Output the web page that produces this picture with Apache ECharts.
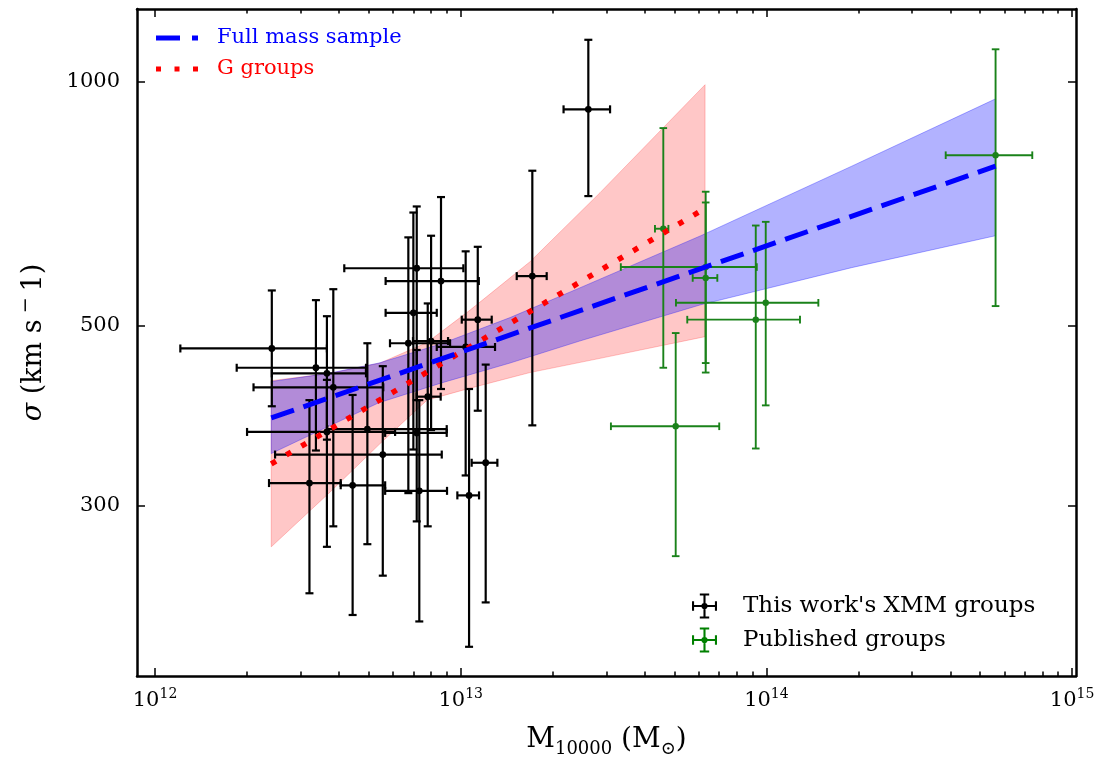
<!DOCTYPE html>
<html><head><meta charset="utf-8">
<script src="https://cdn.jsdelivr.net/npm/echarts@6/dist/echarts.min.js"></script>
<style>html,body{margin:0;padding:0;background:#fff}#c{width:1102px;height:757px}</style>
</head><body><div id="c"></div>
<script>
// ---- tick values ----
const xMajorTicks = [1e12, 1e13, 1e14, 1e15];
const xMinorTicks = [2e12,3e12,4e12,5e12,6e12,7e12,8e12,9e12,
                     2e13,3e13,4e13,5e13,6e13,7e13,8e13,9e13,
                     2e14,3e14,4e14,5e14,6e14,7e14,8e14,9e14];
const yTicks = [300, 500, 1000];

// ---- This work's XMM groups: [M, M_lo, M_hi, sigma, sigma_lo, sigma_hi] ----
const xmmGroups = [
  [2.41e12, 1.21e12, 3.65e12, 469, 398, 553],
  [3.36e12, 1.85e12, 4.90e12, 444, 351, 538],
  [3.65e12, 2.41e12, 4.90e12, 437, 362, 514],
  [3.83e12, 2.10e12, 5.58e12, 420, 283, 555],
  [3.20e12, 2.36e12, 4.05e12, 320, 234, 405],
  [3.65e12, 2.00e12, 6.10e12, 370, 267, 429],
  [4.95e12, 3.66e12, 9.00e12, 373, 269, 476],
  [5.56e12, 2.47e12, 8.67e12, 347, 246, 446],
  [4.43e12, 4.05e12, 5.66e12, 318, 220, 411],
  [7.32e12, 5.66e12, 9.02e12, 313, 216, 405],
  [7.18e12, 4.16e12, 1.02e13, 589, 405, 702],
  [8.62e12, 5.68e12, 1.146e13, 568, 418, 721],
  [7.00e12, 5.68e12, 8.35e12, 519, 352, 690],
  [6.74e12, 5.87e12, 9.23e12, 476, 311, 643],
  [8.00e12, 6.98e12, 9.09e12, 479, 372, 646],
  [7.80e12, 7.18e12, 8.60e12, 409, 283, 533],
  [1.137e13, 1.008e13, 1.263e13, 509, 393, 626],
  [1.038e13, 8.35e12, 1.295e13, 471, 327, 618],
  [1.065e13, 9.75e12, 1.148e13, 309, 201, 418],
  [1.207e13, 1.086e13, 1.318e13, 339, 228, 448],
  [1.715e13, 1.525e13, 1.911e13, 576, 377, 777],
  [2.615e13, 2.17e13, 3.08e13, 925, 723, 1127],
  [7.18e12, 5.66e12, 9.00e12, 369, 287, 467]
];

// ---- Published groups ----
const publishedGroups = [
  [4.60e13, 4.32e13, 4.78e13, 659, 444, 877],
  [6.33e13, 3.34e13, 9.30e13, 591, 438, 732],
  [6.33e13, 5.74e13, 6.91e13, 573, 450, 710],
  [9.95e13, 5.06e13, 1.479e14, 534, 399, 672],
  [9.23e13, 5.51e13, 1.288e14, 509, 353, 665],
  [5.05e13, 3.10e13, 7.01e13, 376, 260, 490],
  [5.62e14, 3.86e14, 7.41e14, 812, 529, 1097]
];

// ---- fits ----
const fullFitX = [2.4e12, 5.62e14];
const fullFitY = [385, 787];
const gFitX = [2.4e12, 6.3e13];
const gFitY = [338, 698];

// ---- confidence bands ----
const fullBandX = [2.4e12, 3.7e12, 5.4e12, 8.6e12, 1.45e13, 2.45e13, 6.1e13, 1.9e14, 5.62e14];
const fullBandUpper = [427, 437, 450, 475, 512, 557, 646, 787, 953];
const fullBandLower = [348, 376, 402, 425, 450, 479, 531, 590, 646];
const gBandX = [2.4e12, 3.74e12, 5.45e12, 7.76e12, 1.073e13, 1.685e13, 2.856e13, 6.3e13];
const gBandUpper = [428, 437, 450, 477, 523, 600, 730, 992];
const gBandLower = [267, 312, 358, 405, 419, 438, 456, 485];

const FONT = 'DejaVu Serif';
const chart = echarts.init(document.getElementById('c'), null, {renderer: 'canvas'});

function errRender(color, lw, cap, r) {
  return function (params, api) {
    const x = api.value(0), xl = api.value(1), xh = api.value(2);
    const y = api.value(3), yl = api.value(4), yh = api.value(5);
    const c = api.coord([x, y]);
    const L = api.coord([xl, y]), R = api.coord([xh, y]);
    const B = api.coord([x, yl]), T = api.coord([x, yh]);
    const st = {stroke: color, lineWidth: lw};
    const ln = (x1, y1, x2, y2) => ({type: 'line', shape: {x1, y1, x2, y2}, style: st});
    return {type: 'group', children: [
      ln(L[0], L[1], R[0], R[1]),
      ln(B[0], B[1], T[0], T[1]),
      ln(L[0], L[1] - cap, L[0], L[1] + cap),
      ln(R[0], R[1] - cap, R[0], R[1] + cap),
      ln(T[0] - cap, T[1], T[0] + cap, T[1]),
      ln(B[0] - cap, B[1], B[0] + cap, B[1]),
      {type: 'circle', shape: {cx: c[0], cy: c[1], r: r}, style: {fill: color}}
    ]};
  };
}
function bandRender(xs, up, lo, fill) {
  return function (params, api) {
    if (params.dataIndex !== 0) return null;
    const pts = [];
    for (let i = 0; i < xs.length; i++) pts.push(api.coord([xs[i], up[i]]));
    for (let i = xs.length - 1; i >= 0; i--) pts.push(api.coord([xs[i], lo[i]]));
    return {type: 'polygon', shape: {points: pts}, style: {fill: fill, stroke: fill, lineWidth: 1}};
  };
}
const errIcon = 'path://M11 0H13V24H11Z M0 11H24V13H0Z M7.5 0H16.5V2H7.5Z M7.5 22H16.5V24H7.5Z M0 7.5H2V16.5H0Z M22 7.5H24V16.5H22Z M9 12a3 3 0 1 1 6 0a3 3 0 1 1 -6 0Z';
const dashIcon = 'path://M0 0H24V5H0Z M36 0H42V5H36Z';
const dotIcon = 'path://M0 0H5V5H0Z M18.5 0H23.5V5H18.5Z M37 0H42V5H37Z';

const xMin = 8.73e11, xMax = 1.03e15, yMin = 185, yMax = 1230;
const spine = {show: true, onZero: false, lineStyle: {color: '#000', width: 2.5}};
function xAx(pos, ticks, len, labels, line) {
  const a = {
    type: 'log', gridIndex: 0, position: pos, min: xMin, max: xMax,
    axisLine: line ? spine : {show: false},
    axisTick: {show: true, inside: true, length: len, customValues: ticks, lineStyle: {color: '#000', width: 1.5}},
    axisLabel: {show: false},
    splitLine: {show: false}, minorTick: {show: false}, minorSplitLine: {show: false}
  };
  if (labels) {
    a.axisLabel = {
      show: true, customValues: ticks, margin: 11,
      formatter: v => '{b|10}{s|' + Math.round(Math.log10(v)) + '}',
      rich: {
        b: {fontFamily: FONT, fontSize: 21, color: '#000', lineHeight: 28},
        s: {fontFamily: FONT, fontSize: 14, color: '#000', lineHeight: 14, verticalAlign: 'top'}
      }
    };
    a.name = '{m|M}{sub|10000}{m| (M}{sub|⊙}{m|)}';
    a.nameLocation = 'middle';
    a.nameGap = 46;
    a.nameTextStyle = {
      rich: {
        m: {fontFamily: FONT, fontSize: 28, color: '#000', lineHeight: 36},
        sub: {fontFamily: FONT, fontSize: 18, color: '#000', lineHeight: 18, verticalAlign: 'bottom'}
      }
    };
  }
  return a;
}
function yAx(pos, labels) {
  const a = {
    type: 'log', gridIndex: 0, position: pos, min: yMin, max: yMax,
    axisLine: spine,
    axisTick: {show: true, inside: true, length: 8, customValues: yTicks, lineStyle: {color: '#000', width: 1.5}},
    axisLabel: {show: false},
    splitLine: {show: false}, minorTick: {show: false}
  };
  if (labels) {
    a.axisLabel = {show: true, customValues: yTicks, margin: 17,
      formatter: v => String(Math.round(v)),
      fontFamily: FONT, fontSize: 21, color: '#000'};
    a.name = '{i|σ}{t| (km s}{p|−}{t|1)}';
    a.nameLocation = 'middle';
    a.nameGap = 86;
    a.nameRotate = 90;
    a.nameTextStyle = {
      rich: {
        i: {fontFamily: FONT, fontSize: 27, fontStyle: 'italic', color: '#000', lineHeight: 34},
        t: {fontFamily: FONT, fontSize: 27, color: '#000', lineHeight: 34},
        p: {fontFamily: FONT, fontSize: 19, color: '#000', lineHeight: 19, verticalAlign: 'top', padding: [0, 6, 0, 6]}
      }
    };
  }
  return a;
}

const option = {
  animation: false,
  backgroundColor: '#fff',
  grid: {left: 137, right: 26, top: 9, bottom: 81, containLabel: false, outerBoundsMode: 'none'},
  xAxis: [
    xAx('bottom', xMajorTicks, 8, true, true),
    xAx('bottom', xMinorTicks, 4.5, false, false),
    xAx('top', xMajorTicks, 8, false, true),
    xAx('top', xMinorTicks, 4.5, false, false)
  ],
  yAxis: [yAx('left', true), yAx('right', false)],
  legend: [
    {
      orient: 'vertical', left: 156, top: 25, padding: 0, itemGap: 5,
      itemWidth: 42, itemHeight: 5, selectedMode: false,
      textStyle: {fontFamily: FONT, fontSize: 21, lineHeight: 26, padding: [0, 0, 0, 14]},
      data: [
        {name: 'Full mass sample', icon: dashIcon, itemStyle: {color: '#0000ff', borderWidth: 0}, textStyle: {color: '#0000ff'}},
        {name: 'G groups', icon: dotIcon, itemStyle: {color: '#ff0000', borderWidth: 0}, textStyle: {color: '#ff0000'}}
      ]
    },
    {
      orient: 'vertical', left: 692, top: 592, padding: 0, itemGap: 6,
      itemWidth: 25, itemHeight: 25, selectedMode: false,
      textStyle: {fontFamily: FONT, fontSize: 23, lineHeight: 28, color: '#000', padding: [0, 0, 0, 21]},
      data: [
        {name: "This work's XMM groups", icon: errIcon, itemStyle: {color: '#000', borderWidth: 0}},
        {name: 'Published groups', icon: errIcon, itemStyle: {color: '#008000', borderWidth: 0}}
      ]
    }
  ],
  series: [
    {
      name: 'G band', type: 'custom', silent: true, xAxisIndex: 0, yAxisIndex: 0,
      renderItem: bandRender(gBandX, gBandUpper, gBandLower, 'rgba(255,0,0,0.22)'),
      data: gBandX.map((x, i) => [x, gBandUpper[i], gBandLower[i]]), encode: {x: 0, y: 1}
    },
    {
      name: 'Full band', type: 'custom', silent: true, xAxisIndex: 0, yAxisIndex: 0,
      renderItem: bandRender(fullBandX, fullBandUpper, fullBandLower, 'rgba(0,0,255,0.3)'),
      data: fullBandX.map((x, i) => [x, fullBandUpper[i], fullBandLower[i]]), encode: {x: 0, y: 1}
    },
    {
      name: "This work's XMM groups", type: 'custom', silent: true, xAxisIndex: 0, yAxisIndex: 0,
      itemStyle: {color: '#000'},
      renderItem: errRender('#000', 2.2, 4, 3.4),
      data: xmmGroups, encode: {x: 0, y: 3}
    },
    {
      name: 'Published groups', type: 'custom', silent: true, xAxisIndex: 0, yAxisIndex: 0,
      itemStyle: {color: '#008000'},
      renderItem: errRender('#1a821a', 1.9, 3.8, 3.2),
      data: publishedGroups, encode: {x: 0, y: 3}
    },
    {
      name: 'G groups', type: 'line', silent: true, xAxisIndex: 0, yAxisIndex: 0,
      symbol: 'none', color: '#ff0000',
      lineStyle: {color: '#ff0000', width: 5.5, type: [5.5, 12], cap: 'butt'},
      data: gFitX.map((x, i) => [x, gFitY[i]])
    },
    {
      name: 'Full mass sample', type: 'line', silent: true, xAxisIndex: 0, yAxisIndex: 0,
      symbol: 'none', color: '#0000ff',
      lineStyle: {color: '#0000ff', width: 5, type: [24, 10], cap: 'butt'},
      data: fullFitX.map((x, i) => [x, fullFitY[i]])
    }
  ]
};
chart.setOption(option);
</script>
</body></html>
